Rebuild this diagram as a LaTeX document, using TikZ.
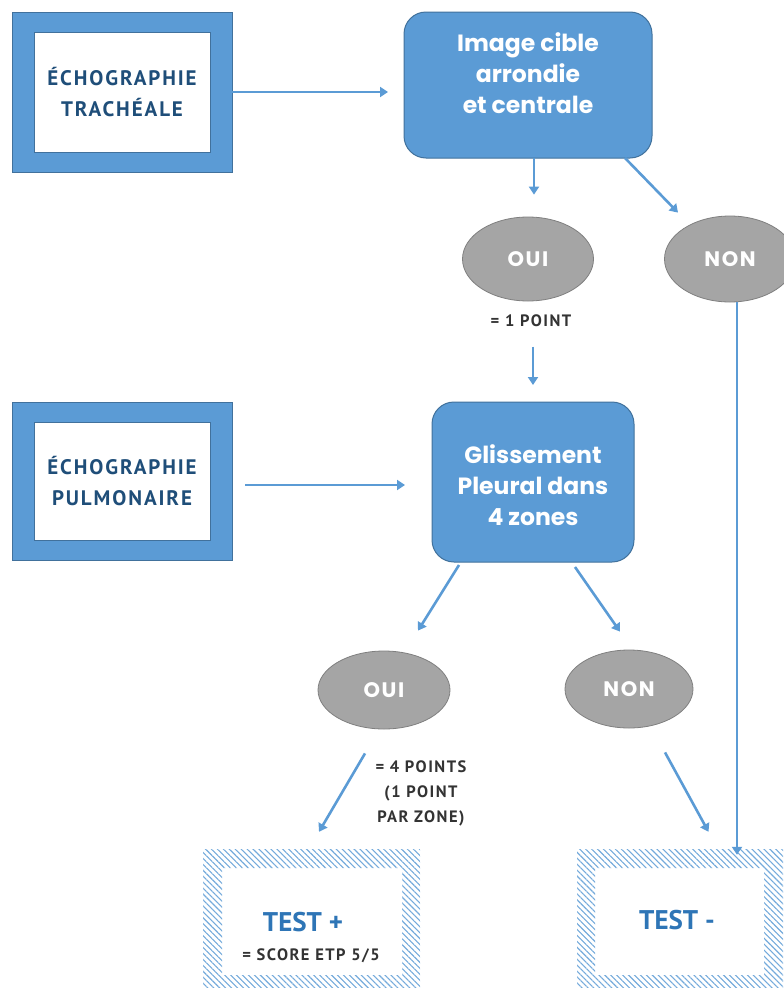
\documentclass[tikz,border=0pt]{standalone}
\usepackage{fontspec}
\setmainfont{PT Sans}
\newfontfamily\geofont{Poppins}
\usetikzlibrary{arrows.meta,patterns.meta,calc,shapes.geometric}
\definecolor{bl}{HTML}{5B9BD5}
\definecolor{bld}{HTML}{41719C}
\definecolor{navy}{HTML}{1F4E79}
\definecolor{tb}{HTML}{2E75B6}
\definecolor{gr}{HTML}{A5A5A5}
\definecolor{grd}{HTML}{7F7F7F}
\definecolor{txg}{HTML}{333333}
\begin{document}
\begin{tikzpicture}[x=1pt,y=-1pt,
  bframe/.style={draw=bld,line width=1pt,fill=bl,minimum width=220pt,minimum height=160pt,outer sep=0pt,inner sep=0pt},
  wbox/.style={draw=bld,line width=0.6pt,fill=white,minimum width=176pt,minimum height=120pt,inner sep=0pt,align=center,font=\bfseries\fontsize{21}{31}\selectfont\addfontfeature{LetterSpace=9},text=navy},
  rbox/.style={draw=bld,line width=1pt,fill=bl,rounded corners=22pt,outer sep=0pt,inner sep=0pt},
  rtext/.style={align=center,text=white,font=\geofont\bfseries\fontsize{23.5}{31}\selectfont},
  ell/.style={ellipse,draw=grd,line width=0.8pt,fill=gr,inner sep=0pt,text=white,font=\geofont\bfseries\fontsize{21}{24}\selectfont\addfontfeature{LetterSpace=8}},
  small/.style={align=center,text=txg,font=\bfseries\fontsize{16.5}{25}\selectfont\addfontfeature{LetterSpace=9}},
  arr/.style={draw=bl,line width=2.6pt,-{Triangle[width=10pt,length=8pt]}},
  hatch/.style={pattern={Lines[angle=-45,distance=4.2pt,line width=1.1pt]},pattern color=bl!85,even odd rule},
  ttext/.style={align=center,text=tb,font=\bfseries\fontsize{27}{30}\selectfont}
]
\useasboundingbox (0,0) rectangle (784,988);

% Boxes left
\node[bframe] (e1) at (122,92) {};
\node[wbox] (e1i) at (122,92) {ÉCHOGRAPHIE\\TRACHÉALE};
\node[bframe,minimum height=158pt] (e2) at (122,481) {};
\node[wbox,minimum height=118pt] (e2i) at (122,481) {ÉCHOGRAPHIE\\PULMONAIRE};

% rounded boxes
\node[rbox,minimum width=248pt,minimum height=146pt] (r1) at (528,85) {};
\node[rtext] (r1t) at (528,73) {Image cible\\arrondie\\et centrale};
\node[rbox,minimum width=202pt,minimum height=160pt] (r2) at (533,482) {};
\node[rtext] (r2t) at (533,485) {Glissement\\Pleural dans\\4 zones};

% ellipses
\node[ell,minimum width=131pt,minimum height=84pt] (o1) at (528,259) {OUI};
\node[ell,minimum width=131pt,minimum height=86pt] (n1) at (730,259) {NON};
\node[ell,minimum width=132pt,minimum height=78pt] (o2) at (384,690) {OUI};
\node[ell,minimum width=128pt,minimum height=78pt] (n2) at (629,689) {NON};

\node[small] (p1) at (531,321) {= 1 POINT};
\node[small] (p4) at (421,793) {= 4 POINTS\\(1 POINT\\PAR ZONE)};

% hatched result boxes
\path[hatch] (203,849) rectangle (420,998) (222,868) rectangle (402,975);
\path[hatch] (577,849) rectangle (783,998) (595,868) rectangle (764,975);
\node[minimum width=180pt,minimum height=107pt,inner sep=0pt] (tp) at (312,921.5) {};
\node[minimum width=169pt,minimum height=107pt,inner sep=0pt] (tm) at (679.5,921.5) {};
\node[ttext] (tpt) at (303,922) {TEST +};
\node[small,font=\bfseries\fontsize{16.5}{18}\selectfont\addfontfeature{LetterSpace=9}] (tps) at (311,956) {= SCORE ETP 5/5};
\node[ttext] (tmt) at (677,920) {TEST -};

% connectors
\draw[arr,shorten >=16pt] (e1.east) -- (r1.west |- e1.east);
\draw[arr,shorten <=13pt,shorten >=27pt] (e2.east |- r2t.center) -- (r2.west |- r2t.center);
\draw[arr] ([xshift=6pt]r1.south) -- ([xshift=6pt,yshift=22pt]o1.north);
\draw[arr] ([xshift=-27pt]r1.south east) -- ([xshift=-52pt,yshift=3pt]n1.north);
\draw[arr,shorten <=16pt] (p1.south -| r2.north) -- ([yshift=17pt]r2.north);
\draw[arr,shorten >=13pt] ([xshift=7pt]n1.south) -- ([xshift=7pt]n1.south |- tm.north);
\draw[arr] ([xshift=27pt,yshift=-3pt]r2.south west) -- ([xshift=34pt,yshift=20pt]o2.north);
\draw[arr] ([xshift=-59pt,yshift=-5pt]r2.south east) -- ([xshift=-9pt,yshift=18pt]n2.north);
\draw[arr] ([xshift=-19pt,yshift=-24pt]o2.south) -- ([xshift=7pt,yshift=36pt]tp.north);
\draw[arr] ([xshift=36pt,yshift=-24pt]n2.south) -- ([xshift=29pt,yshift=36pt]tm.north);
\end{tikzpicture}
\end{document}
